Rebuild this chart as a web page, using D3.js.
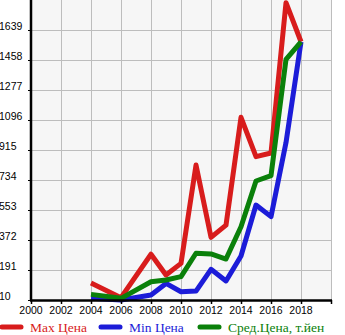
<!DOCTYPE html>
<html><head><meta charset="utf-8">
<script src="https://cdn.jsdelivr.net/npm/d3@7"></script>
<style>body{margin:0;background:#fff}svg{display:block}</style>
</head><body>
<svg id="c" width="345" height="335"></svg>
<script>
const yTicks = [10,191,372,553,734,915,1096,1277,1458,1639];
const xTicks = [2000,2002,2004,2006,2008,2010,2012,2014,2016,2018];
const years = [2004,2006,2008,2009,2010,2011,2012,2013,2014,2015,2016,2017,2018];
const maxPrice = [112,24,286,161,231,824,388,462,1112,875,897,1804,1568];
const minPrice = [20,10,40,110,60,64,195,125,275,583,513,960,1568];
const avgPrice = [44,20,120,131,151,292,288,257,452,728,760,1462,1568];
const seriesNames = ["Max Цена","Min Цена","Сред.Цена, т.йен"];
const colors = ["#d81c1c","#1c1cd8","#0a800a"];

const svg = d3.select("#c");
const x = d3.scaleLinear().domain([2000,2020]).range([31,331]);
const y = d3.scaleLinear().domain([10,1820]).range([300,0]);

svg.append("rect").attr("x",31).attr("y",0).attr("width",300).attr("height",300).attr("fill","#f6f6f6");

const g = svg.append("g");
g.selectAll(".vg").data(xTicks.concat([2020])).enter().append("line")
  .attr("x1",d=>x(d)+0.5).attr("x2",d=>x(d)+0.5).attr("y1",0).attr("y2",300)
  .attr("stroke","#bdbdbd").attr("stroke-width",1);
g.selectAll(".hg").data(yTicks).enter().append("line")
  .attr("x1",31).attr("x2",331).attr("y1",d=>y(d)+0.5).attr("y2",d=>y(d)+0.5)
  .attr("stroke","#bdbdbd").attr("stroke-width",1);

const series = [maxPrice,minPrice,avgPrice];
const line = d3.line().x((d,i)=>x(years[i])).y(d=>y(d));
series.forEach((s,k)=>{
  svg.append("path").datum(s).attr("d",line).attr("fill","none")
    .attr("stroke",colors[k]).attr("stroke-width",5).attr("stroke-linejoin","round").attr("stroke-linecap","butt");
});

// axes
const yAxis = svg.append("g").attr("transform","translate(31,0)")
  .call(d3.axisLeft(y).tickValues(yTicks).tickSize(3).tickFormat(""));
yAxis.select(".domain").remove();
yAxis.selectAll("line").attr("stroke","#000");
svg.append("line").attr("x1",31).attr("x2",31).attr("y1",0).attr("y2",301).attr("stroke","#000").attr("stroke-width",2.5);
svg.selectAll(".yl").data(yTicks).enter().append("text")
  .attr("x",-1).attr("y",d=>y(d)).attr("font-family","Liberation Sans, Arial, sans-serif")
  .attr("font-size",10.5).text(d=>d);

const xAxis = svg.append("g").attr("transform","translate(0,300)")
  .call(d3.axisBottom(x).tickValues(xTicks.concat([2020])).tickSize(4).tickFormat(""));
xAxis.select(".domain").remove();
xAxis.selectAll("line").attr("stroke","#000").attr("stroke-width",1.5);
svg.append("line").attr("x1",30).attr("x2",332).attr("y1",300.5).attr("y2",300.5).attr("stroke","#000").attr("stroke-width",2.5);
svg.selectAll(".xl").data(xTicks).enter().append("text")
  .attr("x",d=>x(d)).attr("y",314).attr("text-anchor","middle")
  .attr("font-family","Liberation Sans, Arial, sans-serif").attr("font-size",10.5).text(d=>d);

// legend
const legX = [2,101,200];
seriesNames.forEach((n,k)=>{
  svg.append("line").attr("x1",legX[k]).attr("x2",legX[k]+19).attr("y1",327).attr("y2",327)
    .attr("stroke",colors[k]).attr("stroke-width",5).attr("stroke-linecap","round");
  svg.append("text").attr("x",legX[k]+28).attr("y",332).attr("fill",colors[k])
    .attr("font-family","Liberation Serif, Times New Roman, serif").attr("font-size",13.5).text(n);
});
</script>
</body></html>
